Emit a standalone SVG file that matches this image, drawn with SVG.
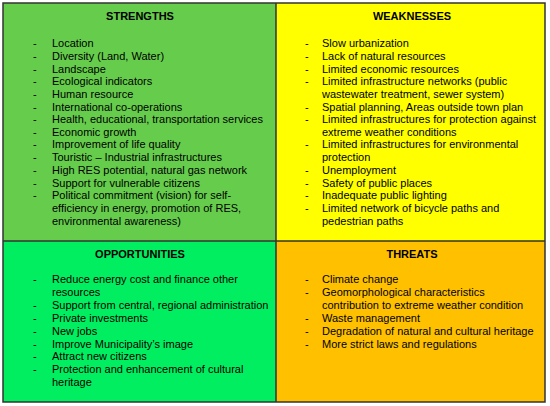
<svg xmlns="http://www.w3.org/2000/svg" width="550" height="406" viewBox="0 0 550 406">
<style>
.t{font-family:"Liberation Sans",Arial,sans-serif;font-size:11px;fill:#000}
.h{font-family:"Liberation Sans",Arial,sans-serif;font-size:11px;font-weight:bold;fill:#000;text-anchor:middle}
.b{stroke:#333;stroke-width:1.5}
</style>
<rect width="550" height="406" fill="#fff"/>
<g id="strengths">
<rect x="3" y="3" width="273" height="238" fill="#66CC4C"/>
<text class="h" x="140" y="20">STRENGTHS</text>
<g class="t">
<text x="33" y="47">-</text><text x="52" y="47">Location</text>
<text x="33" y="60">-</text><text x="52" y="60">Diversity (Land, Water)</text>
<text x="33" y="73">-</text><text x="52" y="73">Landscape</text>
<text x="33" y="85">-</text><text x="52" y="85">Ecological indicators</text>
<text x="33" y="98">-</text><text x="52" y="98">Human resource</text>
<text x="33" y="111">-</text><text x="52" y="111">International co-operations</text>
<text x="33" y="123">-</text><text x="52" y="123">Health, educational, transportation services</text>
<text x="33" y="136">-</text><text x="52" y="136">Economic growth</text>
<text x="33" y="148">-</text><text x="52" y="148">Improvement of life quality</text>
<text x="33" y="161">-</text><text x="52" y="161">Touristic – Industrial infrastructures</text>
<text x="33" y="174">-</text><text x="52" y="174">High RES potential, natural gas network</text>
<text x="33" y="187">-</text><text x="52" y="187">Support for vulnerable citizens</text>
<text x="33" y="199">-</text><text x="52" y="199">Political commitment (vision) for self-</text>
<text x="52" y="212">efficiency in energy, promotion of RES,</text>
<text x="52" y="225">environmental awareness)</text>
</g>
</g>
<g id="weaknesses">
<rect x="276" y="3" width="269" height="238" fill="#FFFF00"/>
<text class="h" x="412" y="20">WEAKNESSES</text>
<g class="t">
<text x="305" y="47">-</text><text x="322" y="47">Slow urbanization</text>
<text x="305" y="60">-</text><text x="322" y="60">Lack of natural resources</text>
<text x="305" y="73">-</text><text x="322" y="73">Limited economic resources</text>
<text x="305" y="85">-</text><text x="322" y="85">Limited infrastructure networks (public</text>
<text x="322" y="98">wastewater treatment,  sewer system)</text>
<text x="305" y="111">-</text><text x="322" y="111">Spatial planning, Areas outside town plan</text>
<text x="305" y="123">-</text><text x="322" y="123">Limited infrastructures for protection against</text>
<text x="322" y="136">extreme weather conditions</text>
<text x="305" y="148">-</text><text x="322" y="148">Limited infrastructures for environmental</text>
<text x="322" y="161">protection</text>
<text x="305" y="174">-</text><text x="322" y="174">Unemployment</text>
<text x="305" y="187">-</text><text x="322" y="187">Safety of public places</text>
<text x="305" y="199">-</text><text x="322" y="199">Inadequate public lighting</text>
<text x="305" y="212">-</text><text x="322" y="212">Limited network of bicycle paths and</text>
<text x="322" y="225">pedestrian paths</text>
</g>
</g>
<g id="opportunities">
<rect x="3" y="241" width="273" height="161" fill="#00EE60"/>
<text class="h" x="140" y="258">OPPORTUNITIES</text>
<g class="t">
<text x="33" y="283">-</text><text x="52" y="283">Reduce energy cost and finance other</text>
<text x="52" y="296">resources</text>
<text x="33" y="309">-</text><text x="52" y="309">Support from central, regional administration</text>
<text x="33" y="322">-</text><text x="52" y="322">Private investments</text>
<text x="33" y="335">-</text><text x="52" y="335">New jobs</text>
<text x="33" y="348">-</text><text x="52" y="348">Improve Municipality’s image</text>
<text x="33" y="360">-</text><text x="52" y="360">Attract  new citizens</text>
<text x="33" y="373">-</text><text x="52" y="373">Protection and enhancement of cultural</text>
<text x="52" y="386">heritage</text>
</g>
</g>
<g id="threats">
<rect x="276" y="241" width="269" height="161" fill="#FFC000"/>
<text class="h" x="412" y="258">THREATS</text>
<g class="t">
<text x="305" y="283">-</text><text x="322" y="283">Climate change</text>
<text x="305" y="296">-</text><text x="322" y="296">Geomorphological characteristics</text>
<text x="322" y="309">contribution to extreme weather condition</text>
<text x="305" y="322">-</text><text x="322" y="322">Waste management</text>
<text x="305" y="335">-</text><text x="322" y="335">Degradation of natural and cultural heritage</text>
<text x="305" y="348">-</text><text x="322" y="348">More strict laws and regulations</text>
</g>
</g>
<g id="grid" fill="none" class="b">
<rect x="3" y="3" width="542" height="399"/>
<line x1="276" y1="3" x2="276" y2="402"/>
<line x1="3" y1="241" x2="545" y2="241"/>
</g>
</svg>
